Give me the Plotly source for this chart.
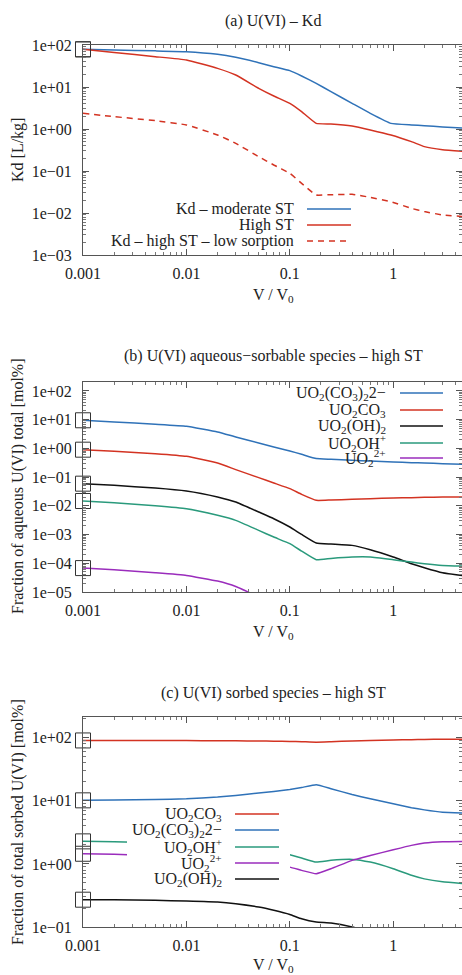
import plotly.graph_objects as go

W, H = 462, 975
SERIF = "Liberation Serif, Times New Roman, serif"

# ---------------- data ----------------
x_a = [0.001, 0.002, 0.005, 0.01, 0.02, 0.03, 0.05, 0.07, 0.1, 0.13, 0.18,
       0.25, 0.4, 0.6, 0.95, 1.5, 2.0, 3.0, 5.0]
kd_moderate = [78.9, 76.0, 72.5, 69.3, 60.0, 50.8, 37.9, 30.5, 24.5, 18.3, 12.2,
               7.74, 4.08, 2.36, 1.36, 1.25, 1.20, 1.12, 1.04]
kd_high = [78.9, 66.2, 52.7, 44.0, 27.8, 19.3, 9.3, 6.1, 4.08, 2.59, 1.36,
           1.32, 1.18, 0.95, 0.72, 0.50, 0.38, 0.32, 0.29]
kd_high_low = [2.36, 1.97, 1.58, 1.25, 0.72, 0.456, 0.219, 0.139, 0.088, 0.0508, 0.0268,
               0.0273, 0.0278, 0.0236, 0.0186, 0.0129, 0.0108, 0.0090, 0.0082]

x_b = [0.001, 0.002, 0.005, 0.01, 0.02, 0.03, 0.05, 0.07, 0.1, 0.13, 0.18,
       0.25, 0.4, 0.6, 1.0, 1.5, 2.0, 3.0, 5.0]
aq_dicarb = [9.5, 8.3, 6.9, 5.9, 3.73, 2.5, 1.54, 1.12, 0.81, 0.62, 0.44,
             0.416, 0.384, 0.364, 0.336, 0.318, 0.31, 0.294, 0.279]
aq_carb = [0.90, 0.79, 0.655, 0.53, 0.31, 0.182, 0.0955, 0.0622, 0.0395, 0.0251, 0.0155,
           0.0159, 0.0168, 0.0177, 0.0187, 0.0192, 0.0197, 0.0203, 0.0203]
aq_hydrox2 = [0.059, 0.0516, 0.0417, 0.0328, 0.0203, 0.01357, 0.00608, 0.00356, 0.00183,
              0.00101, 0.000506, 0.000467, 0.00042, 0.000296, 0.000165, 0.0000964,
              0.0000699, 0.0000468, 0.0000358]
aq_hydrox = [0.0147, 0.01285, 0.0101, 0.00794, 0.00466, 0.00312, 0.0014, 0.000818, 0.00048,
             0.000266, 0.000133, 0.000148, 0.000165, 0.000165, 0.000133, 0.00011,
             0.0000964, 0.0000843, 0.0000798]
x_b_uranyl = [0.001, 0.002, 0.005, 0.01, 0.02, 0.03, 0.05, 0.07, 0.1]
aq_uranyl = [6.8e-5, 5.95e-5, 4.68e-5, 3.78e-5, 2.4e-5, 1.56e-5, 6.6e-6, 3.5e-6, 1.9e-6]

x_c = x_b
sorb_carb = [90.8, 90.8, 90.6, 90.4, 90.0, 89.6, 89.0, 88.4, 87.6, 86.8, 85.4,
             86.8, 89.0, 90.6, 92.4, 93.5, 94.2, 94.8, 95.2]
sorb_dicarb = [10.2, 10.3, 10.5, 10.8, 11.5, 12.2, 13.3, 14.1, 15.2, 16.3, 18.0,
               15.6, 12.6, 10.8, 9.0, 7.8, 7.2, 6.6, 6.4]
sorb_hydrox = [2.28, 2.25, 2.15, 2.05, 1.9, 1.8, 1.65, 1.52, 1.40, 1.24, 1.07,
               1.14, 1.18, 1.07, 0.84, 0.66, 0.58, 0.52, 0.485]
sorb_uranyl = [1.45, 1.42, 1.35, 1.28, 1.18, 1.1, 1.0, 0.95, 0.89, 0.79, 0.70,
               0.84, 1.14, 1.36, 1.68, 1.97, 2.14, 2.25, 2.28]
sorb_hydrox2 = [0.271, 0.270, 0.265, 0.258, 0.249, 0.234, 0.207, 0.184, 0.158, 0.135, 0.12,
                0.1156, 0.1, 0.083, 0.062, 0.05, 0.044, 0.038, 0.033]

x_ticks = [0.001, 0.01, 0.1, 1]
x_ticktext = ["0.001", "0.01", "0.1", "1"]
y_a_exp = [-3, -2, -1, 0, 1, 2]
y_b_exp = [-5, -4, -3, -2, -1, 0, 1, 2]
y_c_exp = [-1, 0, 1, 2]

lbl_dicarb = "UO<sub>2</sub>(CO<sub>3</sub>)<sub>2</sub>2−"
lbl_carb = "UO<sub>2</sub>CO<sub>3</sub>"
lbl_hydrox2 = "UO<sub>2</sub>(OH)<sub>2</sub>"
lbl_hydrox = "UO<sub>2</sub>OH<sup>+</sup>"
lbl_uranyl = "UO<sub>2</sub><sup>2+</sup>"

BLUE = "#2f72b8"
RED = "#d33322"
TEAL = "#2a9a7c"
PURPLE = "#9a2cbc"
BLACK = "#111111"


def etext(e):
    return "1e" + ("+" if e >= 0 else "−") + "%02d" % abs(e)


def minor_vals(lo, hi):
    out = []
    for e in range(lo, hi + 1):
        for m in range(2, 10):
            out.append(m * 10.0 ** e)
    return out


fig = go.Figure()


def add(xa, ya, x, y, color, dash="solid", box=True):
    fig.add_trace(go.Scatter(x=x, y=y, mode="lines", xaxis=xa, yaxis=ya,
                             line=dict(color=color, width=1.5, dash=dash,
                                       shape="spline", smoothing=0.35),
                             showlegend=False, hoverinfo="skip"))
    if box:
        fig.add_trace(go.Scatter(x=x[:1], y=y[:1], mode="markers", xaxis=xa, yaxis=ya,
                                 marker=dict(symbol="square-open", size=15, color="#333",
                                             line=dict(width=1, color="#333")),
                                 cliponaxis=False, showlegend=False, hoverinfo="skip"))


# panel (a)
add("x", "y", x_a, kd_moderate, BLUE)
add("x", "y", x_a, kd_high, RED)
add("x", "y", x_a, kd_high_low, RED, dash="6px,5px", box=False)
# panel (b)
add("x2", "y2", x_b, aq_dicarb, BLUE)
add("x2", "y2", x_b, aq_carb, RED)
add("x2", "y2", x_b, aq_hydrox2, BLACK)
add("x2", "y2", x_b, aq_hydrox, TEAL)
add("x2", "y2", x_b_uranyl, aq_uranyl, PURPLE)
# panel (c)
add("x3", "y3", x_c, sorb_carb, RED)
add("x3", "y3", x_c, sorb_dicarb, BLUE)
add("x3", "y3", x_c, sorb_hydrox, TEAL)
add("x3", "y3", x_c, sorb_uranyl, PURPLE)
add("x3", "y3", x_c, sorb_hydrox2, BLACK)


def px(v):
    return v / W


def py(v):
    return 1 - v / H


AXCOL = "#555555"
TICKFONT = dict(family=SERIF, size=16, color="#222")

xdom = [px(83), 1.0]
xrange_ = [-3, 0.665]


def xaxis(anchor):
    return dict(type="log", domain=xdom, range=xrange_, anchor=anchor,
                automargin=False,
                showline=True, linecolor=AXCOL, linewidth=1, mirror="allticks",
                ticks="inside", ticklen=6, tickcolor=AXCOL,
                tickvals=x_ticks, ticktext=x_ticktext, tickfont=TICKFONT,
                ticklabelstandoff=4,
                minor=dict(ticks="inside", ticklen=3, tickcolor="#777",
                           tickvals=minor_vals(-3, 0)),
                showgrid=False, zeroline=False)


def yaxis(anchor, top, bottom, rng, exps):
    return dict(type="log", domain=[py(bottom), py(top)], range=rng, anchor=anchor,
                automargin=False,
                showline=True, linecolor=AXCOL, linewidth=1, mirror="allticks",
                ticks="inside", ticklen=6, tickcolor=AXCOL,
                tickvals=[10.0 ** e for e in exps], ticktext=[etext(e) for e in exps],
                tickfont=TICKFONT, ticklabelstandoff=7,
                minor=dict(ticks="inside", ticklen=3, tickcolor="#777",
                           tickvals=minor_vals(exps[0], exps[-1])),
                showgrid=False, zeroline=False)


annotations = []
shapes = []


def text(x, y, s, size=16, xanchor="center", angle=0):
    annotations.append(dict(x=px(x), y=py(y), xref="paper", yref="paper", text=s,
                            showarrow=False, xanchor=xanchor, yanchor="middle",
                            textangle=angle,
                            font=dict(family=SERIF, size=size, color="#222")))


def legline(x0, x1, y, color, dash="solid"):
    shapes.append(dict(type="line", xref="paper", yref="paper",
                       x0=px(x0), x1=px(x1), y0=py(y), y1=py(y),
                       line=dict(color=color, width=1.5, dash=dash), layer="above"))


# titles & axis labels
text(273, 21, "(a) U(VI) – Kd")
text(273, 356, "(b) U(VI) aqueous−sorbable species – high ST")
text(273, 693, "(c) U(VI) sorbed species – high ST")
text(273, 295, "V / V<sub>0</sub>")
text(273, 632, "V / V<sub>0</sub>")
text(273, 965, "V / V<sub>0</sub>")
text(18, 150, "Kd [L/kg]", angle=-90)
text(18, 487, "Fraction of aqueous U(VI) total [mol%]", angle=-90)
text(18, 822, "Fraction of total sorbed U(VI) [mol%]", angle=-90)

# legend (a)
for (lab, col, dsh, yy) in [("Kd – moderate ST", BLUE, "solid", 209),
                            ("High ST", RED, "solid", 225),
                            ("Kd – high ST – low sorption", RED, "6px,5px", 241)]:
    text(296, yy, lab, xanchor="right")
    legline(307, 351, yy, col, dsh)

# legend (b)
for (lab, col, yy) in [(lbl_dicarb, BLUE, 393), (lbl_carb, RED, 410),
                       (lbl_hydrox2, BLACK, 426), (lbl_hydrox, TEAL, 443),
                       (lbl_uranyl, PURPLE, 458)]:
    text(388, yy, lab, xanchor="right")
    legline(400, 443, yy, col)

# legend (c) with opaque background
shapes.append(dict(type="rect", xref="paper", yref="paper",
                   x0=px(127), x1=px(290), y0=py(889), y1=py(805),
                   fillcolor="white", line=dict(width=0), layer="above"))
for (lab, col, yy) in [(lbl_carb, RED, 814), (lbl_dicarb, BLUE, 830),
                       (lbl_hydrox, TEAL, 847), (lbl_uranyl, PURPLE, 863),
                       (lbl_hydrox2, BLACK, 879)]:
    text(224, yy, lab, xanchor="right")
    legline(235, 279, yy, col)

fig.update_layout(
    width=W, height=H, margin=dict(l=0, r=0, t=0, b=0, autoexpand=False),
    paper_bgcolor="white", plot_bgcolor="white", showlegend=False,
    xaxis=xaxis("y"), xaxis2=xaxis("y2"), xaxis3=xaxis("y3"),
    yaxis=yaxis("x", 45, 255, [-3, 2], y_a_exp),
    yaxis2=yaxis("x2", 382, 592, [-5, 2.31], y_b_exp),
    yaxis3=yaxis("x3", 717, 927, [-1, 2.33], y_c_exp),
    annotations=annotations, shapes=shapes,
)

fig.write_html("out.html", include_plotlyjs=True, full_html=True,
               default_width=W, default_height=H,
               config={"displayModeBar": False, "staticPlot": True},
               post_script="document.body.style.margin='0';document.body.style.overflow='hidden';")
